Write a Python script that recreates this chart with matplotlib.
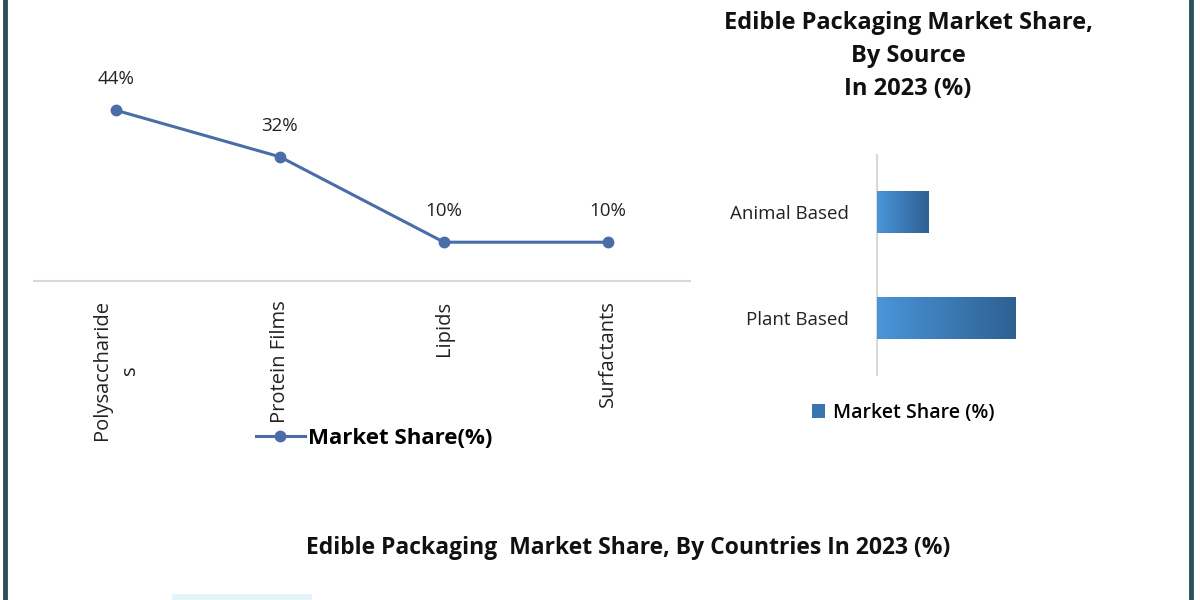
import matplotlib
matplotlib.use("Agg")
import matplotlib.pyplot as plt
import numpy as np
from matplotlib.patches import Rectangle
from matplotlib.lines import Line2D

# ---- data ----
line_categories = ["Polysaccharide\ns", "Protein Films", "Lipids", "Surfactants"]
line_values = [44, 32, 10, 10]
line_labels = ["44%", "32%", "10%", "10%"]
line_series_name = "Market Share(%)"

bar_categories = ["Plant Based", "Animal Based"]
bar_values = [73, 27]
bar_series_name = "Market Share (%)"

title_source = "Edible Packaging Market Share,\nBy Source\nIn 2023 (%)"
title_countries = "Edible Packaging  Market Share, By Countries In 2023 (%)"

W, H = 1200, 600
plt.rcParams['font.family'] = ['Open Sans', 'DejaVu Sans']
fig = plt.figure(figsize=(12, 6), dpi=100)
fig.patch.set_facecolor("white")

def fx(px):
    return px / W

def fy(py):
    return 1 - py / H

line_color = "#4a6da7"
narrow = ["Liberation Sans Narrow", "Open Sans", "DejaVu Sans"]

# ---- line chart ----
ax1 = fig.add_axes([fx(34), fy(281), fx(690 - 34), fy(87) - fy(281)])
x = np.arange(len(line_categories))
ax1.plot(x, line_values, color=line_color, lw=2.2, marker="o", ms=7.5,
         markerfacecolor=line_color, markeredgecolor=line_color)
for xi, v, lab in zip(x, line_values, line_labels):
    ax1.annotate(lab, (xi, v), xytext=(0, 16), textcoords="offset points",
                 ha="center", va="bottom", fontsize=13.5, color="#222222")
ax1.set_xlim(-0.5, len(line_categories) - 0.5)
ax1.set_ylim(0, 50)
ax1.set_xticks(x)
ax1.set_xticklabels(line_categories, rotation=90, fontsize=14.5, color="#222222",
                    va="top", ha="center", linespacing=1.5)
ax1.tick_params(axis="x", length=0, pad=14)
ax1.set_yticks([])
for s in ["top", "right", "left"]:
    ax1.spines[s].set_visible(False)
ax1.spines["bottom"].set_color("#d9d9d9")
ax1.spines["bottom"].set_linewidth(1.5)

h1 = Line2D([], [], color=line_color, lw=2.2, marker="o", ms=7.5)
fig.legend([h1], [line_series_name], loc="center left",
           bbox_to_anchor=(fx(236), fy(438)), frameon=False,
           prop={"family": narrow, "weight": "bold", "size": 16},
           handlelength=2.2, handletextpad=0.15)

# ---- bar chart ----
ax2 = fig.add_axes([fx(877), fy(375), fx(1067 - 877), fy(155) - fy(375)])
y = np.arange(len(bar_categories))
bh = 0.4
bars = ax2.barh(y, bar_values, height=bh, color="#3f7fbf")
grad = np.linspace(0, 1, 256).reshape(1, -1)
cmap = matplotlib.colors.LinearSegmentedColormap.from_list("g", ["#4a95da", "#2e6092"])
for b in bars:
    x0, y0, w, h = b.get_x(), b.get_y(), b.get_width(), b.get_height()
    im = ax2.imshow(grad, extent=[x0, x0 + w, y0, y0 + h], aspect="auto",
                    cmap=cmap, zorder=3)
    im.set_clip_path(b)
ax2.set_xlim(0, 100)
ax2.set_ylim(-0.538, len(bar_categories) - 1 + 0.538)
ax2.set_yticks(y)
ax2.set_yticklabels(bar_categories, fontsize=13.5, color="#222222")
ax2.tick_params(axis="y", length=0, pad=20)
ax2.set_xticks([])
for s in ["top", "right", "bottom"]:
    ax2.spines[s].set_visible(False)
ax2.spines["left"].set_color("#d9d9d9")
ax2.spines["left"].set_linewidth(1.5)

h2 = Rectangle((0, 0), 1, 1, facecolor="#3a75ad")
fig.legend([h2], [bar_series_name], loc="center left",
           bbox_to_anchor=(fx(794), fy(413)), frameon=False,
           prop={"size": 14, "weight": "semibold"},
           handlelength=0.7, handleheight=0.7, handletextpad=0.4)

fig.text(fx(908), fy(56), title_source, ha="center", va="center",
         fontsize=17, fontweight="bold", linespacing=1.5, color="#111111",
         family=narrow)

fig.text(fx(628), fy(548), title_countries, ha="center", va="center",
         fontsize=16.5, fontweight="bold", color="#111111", family=narrow)

# ---- frame and decoration ----
border = "#2d4f5a"
fig.add_artist(Line2D([fx(5), fx(5)], [0, 1], color=border, lw=3.5))
fig.add_artist(Line2D([fx(1191), fx(1191)], [0, 1], color=border, lw=3.5))
fig.add_artist(Rectangle((fx(172), 0), fx(140), fy(594), facecolor="#e3f5fa",
                         edgecolor="none"))

fig.savefig("out.png", dpi=100, facecolor="white")
